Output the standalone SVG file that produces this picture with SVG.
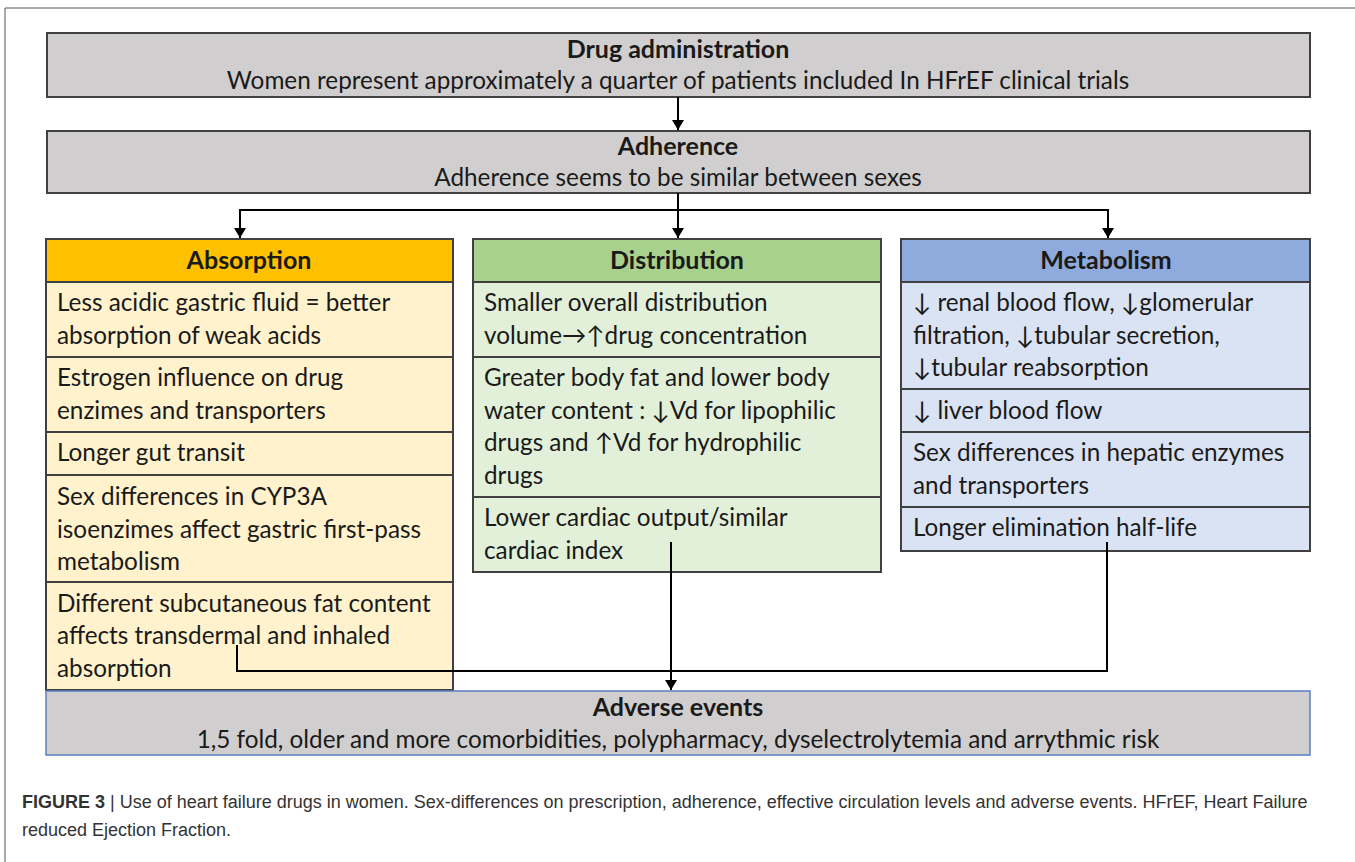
<svg xmlns="http://www.w3.org/2000/svg" width="1355" height="862" viewBox="0 0 1355 862">
<defs>
<style>
.t{font-family:Lato,"Open Sans","Liberation Sans",sans-serif;font-size:24.3px;fill:#1a1a1a}
.b{font-weight:bold;font-size:25px}
.c{text-anchor:middle}
.gray{fill:#d0cece;stroke:#404040;stroke-width:2}
.line{fill:none;stroke:#000;stroke-width:2}
.div{stroke:#404040;stroke-width:2}
.cap{font-family:"Liberation Sans",Arial,sans-serif;font-size:18px;fill:#333}
</style>
<marker id="ah" markerUnits="userSpaceOnUse" markerWidth="10" markerHeight="12" refX="10" refY="6" orient="auto">
<path d="M0,0 L10,6 L0,12 z" fill="#000"/>
</marker>
</defs>
<rect width="1355" height="862" fill="#fff"/>
<path d="M5,862 V8 H1355" fill="none" stroke="#555" stroke-width="1"/>

<g id="drug-administration">
<rect class="gray" x="47" y="33" width="1263" height="64"/>
<text class="t b c" x="678" y="58">Drug administration</text>
<text class="t c" x="678" y="89">Women represent approximately a quarter of patients included  In HFrEF clinical trials</text>
</g>

<g id="adherence">
<rect class="gray" x="47" y="131" width="1263" height="62"/>
<text class="t b c" x="678" y="155">Adherence</text>
<text class="t c" x="678" y="186">Adherence seems to be similar between sexes</text>
</g>

<g id="absorption">
<rect x="46" y="239" width="407" height="451" fill="#fff2cc" stroke="#404040" stroke-width="2"/>
<rect x="46" y="239" width="407" height="43" fill="#ffc000" stroke="#404040" stroke-width="2"/>
<line class="div" x1="46" y1="357" x2="453" y2="357"/>
<line class="div" x1="46" y1="432" x2="453" y2="432"/>
<line class="div" x1="46" y1="475" x2="453" y2="475"/>
<line class="div" x1="46" y1="582" x2="453" y2="582"/>
<text class="t b c" x="249" y="269">Absorption</text>
<text class="t" x="57" y="311">Less acidic gastric fluid = better</text>
<text class="t" x="57" y="344">absorption of weak acids</text>
<text class="t" x="57" y="386">Estrogen influence on drug</text>
<text class="t" x="57" y="419">enzimes and transporters</text>
<text class="t" x="57" y="461">Longer gut transit</text>
<text class="t" x="57" y="505">Sex differences in CYP3A</text>
<text class="t" x="57" y="538">isoenzimes affect gastric first-pass</text>
<text class="t" x="57" y="570">metabolism</text>
<text class="t" x="57" y="612">Different subcutaneous fat content</text>
<text class="t" x="57" y="644">affects transdermal and inhaled</text>
<text class="t" x="57" y="677">absorption</text>
</g>

<g id="distribution">
<rect x="473" y="239" width="408" height="333" fill="#e2f0d9" stroke="#404040" stroke-width="2"/>
<rect x="473" y="239" width="408" height="43" fill="#a9d18e" stroke="#404040" stroke-width="2"/>
<line class="div" x1="473" y1="357" x2="881" y2="357"/>
<line class="div" x1="473" y1="497" x2="881" y2="497"/>
<text class="t b c" x="677" y="269">Distribution</text>
<text class="t" x="484" y="311">Smaller overall distribution</text>
<text class="t" x="484" y="344">volume→↑drug concentration</text>
<text class="t" x="484" y="386">Greater body fat and lower body</text>
<text class="t" x="484" y="419">water content : ↓Vd for lipophilic</text>
<text class="t" x="484" y="451">drugs and ↑Vd for hydrophilic</text>
<text class="t" x="484" y="484">drugs</text>
<text class="t" x="484" y="526">Lower cardiac output/similar</text>
<text class="t" x="484" y="559">cardiac index</text>
</g>

<g id="metabolism">
<rect x="901" y="239" width="409" height="312" fill="#dae3f3" stroke="#404040" stroke-width="2"/>
<rect x="901" y="239" width="409" height="43" fill="#8faadc" stroke="#404040" stroke-width="2"/>
<line class="div" x1="901" y1="389" x2="1310" y2="389"/>
<line class="div" x1="901" y1="432" x2="1310" y2="432"/>
<line class="div" x1="901" y1="507" x2="1310" y2="507"/>
<text class="t b c" x="1106" y="269">Metabolism</text>
<text class="t" x="913" y="311">↓ renal blood flow, ↓glomerular</text>
<text class="t" x="913" y="344">filtration, ↓tubular secretion,</text>
<text class="t" x="913" y="376">↓tubular reabsorption</text>
<text class="t" x="913" y="419">↓ liver blood flow</text>
<text class="t" x="913" y="461">Sex differences in hepatic enzymes</text>
<text class="t" x="913" y="494">and transporters</text>
<text class="t" x="913" y="536">Longer elimination  half-life</text>
</g>

<g id="adverse-events">
<rect x="46" y="691" width="1264" height="64" fill="#d0cece" stroke="#5a7fc0" stroke-width="1.5"/>
<text class="t b c" x="678" y="716">Adverse events</text>
<text class="t c" x="678" y="748">1,5 fold, older and more comorbidities, polypharmacy, dyselectrolytemia and arrythmic risk</text>
</g>

<g id="connectors">
<line class="line" x1="678" y1="97" x2="678" y2="130" marker-end="url(#ah)"/>
<line class="line" x1="678" y1="193" x2="678" y2="238" marker-end="url(#ah)"/>
<path class="line" d="M239,210 H1109"/>
<line class="line" x1="240" y1="209" x2="240" y2="238" marker-end="url(#ah)"/>
<line class="line" x1="1108" y1="209" x2="1108" y2="238" marker-end="url(#ah)"/>
<line class="line" x1="671" y1="542" x2="671" y2="690" marker-end="url(#ah)"/>
<path class="line" d="M237,645 V671 H1107 V542"/>
</g>

<g id="caption">
<text class="cap" x="22" y="808"><tspan font-weight="bold">FIGURE 3</tspan> | Use of heart failure drugs in women. Sex-differences on prescription, adherence, effective circulation levels and adverse events. HFrEF, Heart Failure</text>
<text class="cap" x="22" y="836">reduced Ejection Fraction.</text>
</g>
</svg>
